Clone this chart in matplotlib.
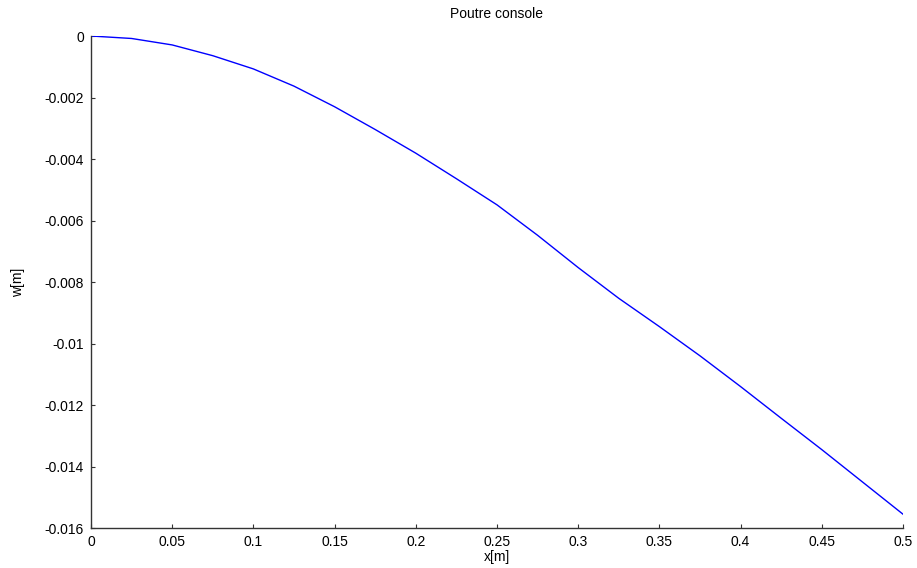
import numpy as np
import matplotlib.pyplot as plt
from matplotlib.ticker import FormatStrFormatter

plt.rcParams['font.family'] = ['Liberation Sans', 'DejaVu Sans']
plt.rcParams['axes.unicode_minus'] = False

# deflection of the beam along its length
x = [0, 0.025, 0.05, 0.075, 0.1, 0.125, 0.15, 0.175, 0.2, 0.225, 0.25,
     0.275, 0.3, 0.325, 0.35, 0.375, 0.4, 0.425, 0.45, 0.475, 0.5]
w = [0, -0.00008, -0.00029, -0.00064, -0.00107, -0.00163, -0.0023,
     -0.00304, -0.00381, -0.00464, -0.00549, -0.00648, -0.00753, -0.00853,
     -0.00945, -0.0104, -0.0114, -0.01243, -0.01345, -0.0145, -0.01555]

xticks = np.arange(0, 0.51, 0.05)
yticks = np.arange(-0.016, 0.0001, 0.002)

fig = plt.figure(figsize=(9.17, 5.68), dpi=100)
ax = fig.add_axes([0.0992, 0.0704, 0.8855, 0.8662])
ax.plot(x, w, color='#0000ff', linewidth=1)

ax.set_xlim(0, 0.5)
ax.set_ylim(-0.016, 0)
ax.set_xticks(xticks)
ax.set_yticks(yticks)
ax.xaxis.set_major_formatter(FormatStrFormatter('%g'))
ax.yaxis.set_major_formatter(FormatStrFormatter('%g'))
ax.tick_params(direction='in', length=3, width=0.8, labelsize=10,
               colors='#333333', labelcolor='black')
ax.tick_params(axis='x', pad=5)
ax.tick_params(axis='y', pad=5)
ax.spines['top'].set_visible(False)
ax.spines['right'].set_visible(False)
for s in ('left', 'bottom'):
    ax.spines[s].set_color('#333333')
    ax.spines[s].set_linewidth(1)

ax.set_title('Poutre console', fontsize=10, pad=13)
ax.set_xlabel('x[m]', fontsize=10, labelpad=1)
ax.set_ylabel('w[m]', fontsize=10, labelpad=14)

plt.savefig('out.png', dpi=100)
